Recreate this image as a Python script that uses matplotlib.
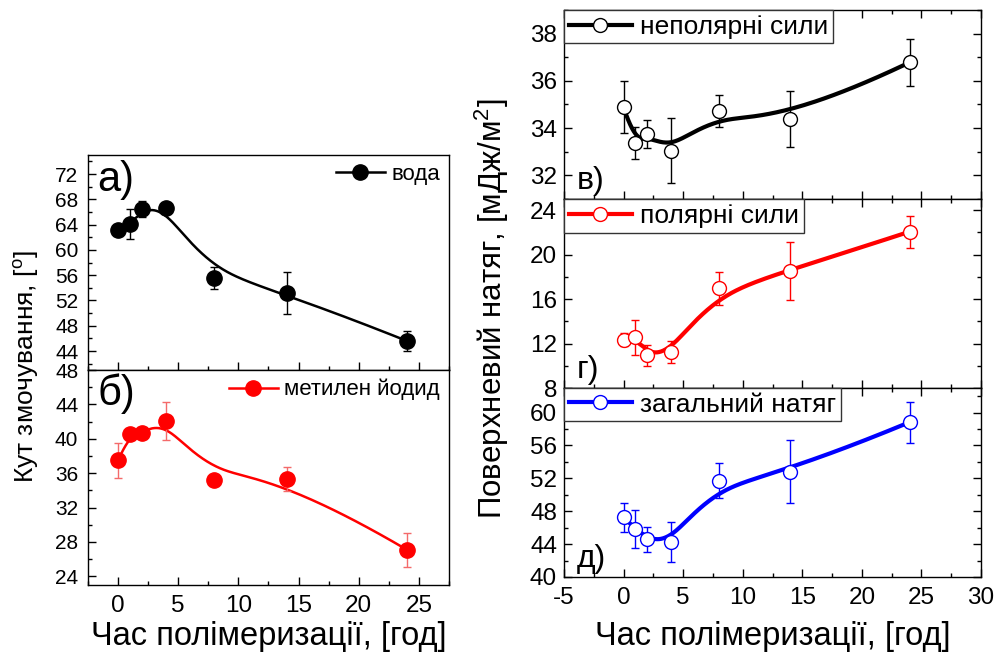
import numpy as np
import matplotlib
matplotlib.use("Agg")
import matplotlib.pyplot as plt
from matplotlib.ticker import MultipleLocator
from matplotlib.lines import Line2D

plt.rcParams['font.family'] = ['Liberation Sans', 'DejaVu Sans']
plt.rcParams['mathtext.fontset'] = 'custom'
plt.rcParams['mathtext.rm'] = 'Liberation Sans'
plt.rcParams['axes.linewidth'] = 1.0
plt.rcParams['axes.unicode_minus'] = False

# polymerisation time, h
hours = [0, 1, 2, 4, 8, 14, 24]

# contact angles, deg
water = [63.2, 64.1, 66.5, 66.6, 55.5, 53.2, 45.6]
water_err = [0.5, 2.3, 1.3, 0.5, 1.75, 3.3, 1.6]
diiodo = [37.5, 40.6, 40.7, 42.1, 35.2, 35.3, 27.1]
diiodo_err = [2.0, 0.4, 0.4, 2.2, 0.4, 1.4, 2.0]

# surface tension components, mJ/m2
dispersive = [34.88, 33.37, 33.75, 33.05, 34.73, 34.38, 36.78]
dispersive_err = [1.1, 0.68, 0.6, 1.37, 0.67, 1.2, 1.0]
polar = [12.34, 12.55, 10.93, 11.24, 16.97, 18.56, 22.06]
polar_err = [0.6, 1.6, 0.95, 1.0, 1.5, 2.6, 1.45]
total = [47.24, 45.87, 44.6, 44.25, 51.7, 52.83, 58.83]
total_err = [1.8, 2.3, 1.5, 2.4, 2.15, 3.8, 2.5]


def bspline(x, y, k=3, num=300):
    # clamped uniform B-spline, data points used as control points
    x = np.asarray(x, float)
    y = np.asarray(y, float)
    n = len(x)
    t = np.concatenate([np.zeros(k), np.arange(n - k + 1), np.full(k, n - k)]).astype(float)
    u = np.linspace(0, n - k, num)
    m = len(t) - 1
    B = np.zeros((num, m))
    for i in range(m):
        B[:, i] = (t[i] <= u) & (u < t[i + 1])
    B[u == t[-1], m - k - 1] = 1.0
    for d in range(1, k + 1):
        Bn = np.zeros((num, m - d))
        for i in range(m - d):
            a = t[i + d] - t[i]
            b = t[i + d + 1] - t[i + 1]
            if a > 0:
                Bn[:, i] += (u - t[i]) / a * B[:, i]
            if b > 0:
                Bn[:, i] += (t[i + d + 1] - u) / b * B[:, i + 1]
        B = Bn
    return B @ x, B @ y


def draw_series(ax, y, err, color, filled, lw, ms, ecolor):
    xs, ys = bspline(hours, y)
    ax.plot(xs, ys, color=color, lw=lw, zorder=2)
    ax.errorbar(hours, y, yerr=err, fmt='none', ecolor=ecolor, elinewidth=1,
                capsize=3, capthick=1, zorder=3)
    face = color if filled else 'white'
    ax.plot(hours, y, 'o', ms=ms, mfc=face, mec=color, mew=1, zorder=4)
    return Line2D([], [], color=color, lw=lw, marker='o', ms=ms, mfc=face, mec=color, mew=1)


fig = plt.figure(figsize=(10, 6.57), dpi=100)
ax_a = fig.add_axes([0.088, 0.4368, 0.361, 0.3272])
ax_b = fig.add_axes([0.088, 0.1096, 0.361, 0.3272])
ax_v = fig.add_axes([0.564, 0.6971, 0.417, 0.2877])
ax_g = fig.add_axes([0.564, 0.4094, 0.417, 0.2877])
ax_d = fig.add_axes([0.564, 0.1218, 0.417, 0.2877])

# left column: contact angles
h = draw_series(ax_a, water, water_err, 'black', True, 1.8, 11, 'black')
ax_a.legend([h], ['вода'], loc='upper right', frameon=False, fontsize=16,
            handlelength=2.2, handletextpad=0.3, borderaxespad=0.2, borderpad=0.2)
h = draw_series(ax_b, diiodo, diiodo_err, 'red', True, 1.8, 11, '#f46a6a')
ax_b.legend([h], ['метилен йодид'], loc='upper right', frameon=False, fontsize=16,
            handlelength=2.2, handletextpad=0.3, borderaxespad=0.2, borderpad=0.2)

ax_a.set_ylim(41, 75)
ax_a.yaxis.set_major_locator(MultipleLocator(4))
ax_a.yaxis.set_minor_locator(MultipleLocator(2))
ax_b.set_ylim(23, 48)
ax_b.yaxis.set_major_locator(MultipleLocator(4))
ax_b.yaxis.set_minor_locator(MultipleLocator(2))

for ax in (ax_a, ax_b):
    ax.set_xlim(-2.5, 27.5)
    ax.xaxis.set_major_locator(MultipleLocator(5))
    ax.xaxis.set_minor_locator(MultipleLocator(2.5))
    ax.tick_params(which='both', direction='in', top=False, right=False, width=1)
    ax.tick_params(which='major', length=6)
    ax.tick_params(which='minor', length=3)
    ax.tick_params(axis='y', labelsize=15, pad=7)
    ax.tick_params(axis='x', labelsize=17.5, pad=7)
ax_a.tick_params(axis='x', labelbottom=False)

ax_a.text(0.025, 0.975, 'а)', transform=ax_a.transAxes, fontsize=30, va='top', ha='left')
ax_b.text(0.025, 0.985, 'б)', transform=ax_b.transAxes, fontsize=30, va='top', ha='left')
ax_b.set_xlabel('Час полімеризації, [год]', fontsize=23.5, labelpad=3)
fig.text(0.027, 0.442, 'Кут змочування, [$\\mathregular{^o}$]', rotation=90,
         fontsize=19, ha='center', va='center')

# right column: surface tension
panels = [
    (ax_v, dispersive, dispersive_err, 'black', 'неполярні сили', (31, 39), 2, 1, 'в)'),
    (ax_g, polar, polar_err, 'red', 'полярні сили', (8, 25), 4, 2, 'г)'),
    (ax_d, total, total_err, 'blue', 'загальний натяг', (40, 63), 4, 2, 'д)'),
]
for ax, y, err, color, label, ylim, major, minor, tag in panels:
    h = draw_series(ax, y, err, color, False, 3, 10, color)
    leg = ax.legend([h], [label], loc='upper left', bbox_to_anchor=(0, 1), fontsize=19,
                    fancybox=False, framealpha=1, edgecolor='#333333', borderaxespad=0,
                    handlelength=2.4, handletextpad=0.3, borderpad=0.18)
    leg.get_frame().set_linewidth(1.0)
    ax.set_xlim(-5, 30)
    ax.set_ylim(*ylim)
    ax.xaxis.set_major_locator(MultipleLocator(5))
    ax.xaxis.set_minor_locator(MultipleLocator(2.5))
    ax.yaxis.set_major_locator(MultipleLocator(major))
    ax.yaxis.set_minor_locator(MultipleLocator(minor))
    ax.tick_params(which='both', direction='in', top=True, right=True, width=1)
    ax.tick_params(which='major', length=6)
    ax.tick_params(which='minor', length=3)
    ax.tick_params(axis='y', labelsize=17.5, pad=5)
    ax.tick_params(axis='x', labelsize=17.5, pad=7)
    ax.text(0.03, 0.015, tag, transform=ax.transAxes, fontsize=23, va='bottom', ha='left')
ax_v.tick_params(axis='x', labelbottom=False)
ax_g.tick_params(axis='x', labelbottom=False)

ax_d.set_xlabel('Час полімеризації, [год]', fontsize=23.5, labelpad=9)
fig.text(0.492, 0.53, 'Поверхневий натяг, [мДж/м$\\mathregular{^2}$]', rotation=90,
         fontsize=22.5, ha='center', va='center')

fig.savefig('out.png', dpi=100)
